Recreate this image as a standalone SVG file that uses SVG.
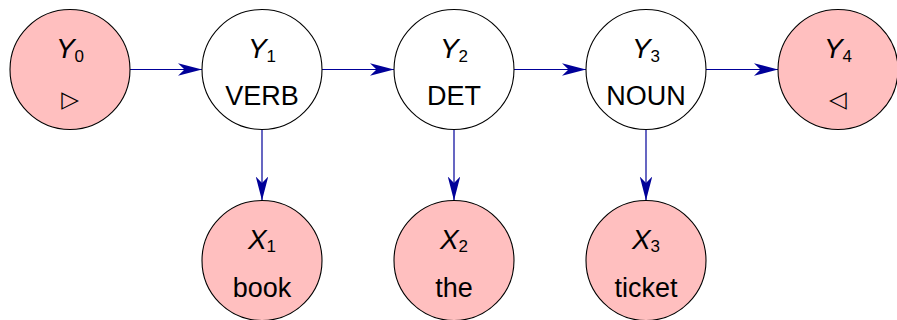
<svg xmlns="http://www.w3.org/2000/svg" width="897" height="320" viewBox="0 0 897 320">
  <style>
    .node { stroke: #000000; stroke-width: 1.1; }
    .obs { fill: #ffbfbf; }
    .hid { fill: #ffffff; }
    .lbl { font-family: "Liberation Sans", Arial, sans-serif; font-size: 27px; fill: #000000; text-anchor: middle; }
    .var { font-style: italic; font-size: 28px; }
    .sub { font-style: normal; font-size: 17px; }
    .sym { font-family: "DejaVu Sans", sans-serif; font-size: 23px; fill: #000000; text-anchor: middle; }
    .edge { stroke: #000099; stroke-width: 1.2; fill: none; marker-end: url(#head); }
  </style>
  <defs>
    <marker id="head" markerUnits="userSpaceOnUse" markerWidth="26" markerHeight="13" refX="24" refY="6.25" orient="auto">
      <path d="M0,0 L24,6.25 L0,12.5 L6.5,6.25 Z" fill="#000099"/>
    </marker>
  </defs>

  <!-- connectors -->
  <g id="edges">
    <line class="edge" x1="130" y1="69.5" x2="202" y2="69.5"/>
    <line class="edge" x1="322" y1="69.5" x2="394" y2="69.5"/>
    <line class="edge" x1="514" y1="69.5" x2="586" y2="69.5"/>
    <line class="edge" x1="706" y1="69.5" x2="778" y2="69.5"/>
    <line class="edge" x1="262" y1="129.5" x2="262" y2="200.5"/>
    <line class="edge" x1="454" y1="129.5" x2="454" y2="200.5"/>
    <line class="edge" x1="646" y1="129.5" x2="646" y2="200.5"/>
  </g>

  <!-- hidden state chain -->
  <g id="Y0">
    <circle class="node obs" cx="70" cy="69.5" r="60"/>
    <text class="lbl" x="70" y="58"><tspan class="var">Y</tspan><tspan class="sub" dy="3.5">0</tspan></text>
    <text class="sym" x="70" y="107">▷</text>
  </g>
  <g id="Y1">
    <circle class="node hid" cx="262" cy="69.5" r="60"/>
    <text class="lbl" x="262" y="58"><tspan class="var">Y</tspan><tspan class="sub" dy="3.5">1</tspan></text>
    <text class="lbl" x="262" y="105">VERB</text>
  </g>
  <g id="Y2">
    <circle class="node hid" cx="454" cy="69.5" r="60"/>
    <text class="lbl" x="454" y="58"><tspan class="var">Y</tspan><tspan class="sub" dy="3.5">2</tspan></text>
    <text class="lbl" x="454" y="105">DET</text>
  </g>
  <g id="Y3">
    <circle class="node hid" cx="646" cy="69.5" r="60"/>
    <text class="lbl" x="646" y="58"><tspan class="var">Y</tspan><tspan class="sub" dy="3.5">3</tspan></text>
    <text class="lbl" x="646" y="105">NOUN</text>
  </g>
  <g id="Y4">
    <circle class="node obs" cx="838" cy="69.5" r="60"/>
    <text class="lbl" x="838" y="58"><tspan class="var">Y</tspan><tspan class="sub" dy="3.5">4</tspan></text>
    <text class="sym" x="838" y="107">◁</text>
  </g>

  <!-- observed words -->
  <g id="X1">
    <circle class="node obs" cx="262" cy="260.5" r="60"/>
    <text class="lbl" x="262" y="248.5"><tspan class="var">X</tspan><tspan class="sub" dy="3.5">1</tspan></text>
    <text class="lbl" x="262" y="296.5">book</text>
  </g>
  <g id="X2">
    <circle class="node obs" cx="454" cy="260.5" r="60"/>
    <text class="lbl" x="454" y="248.5"><tspan class="var">X</tspan><tspan class="sub" dy="3.5">2</tspan></text>
    <text class="lbl" x="454" y="296.5">the</text>
  </g>
  <g id="X3">
    <circle class="node obs" cx="646" cy="260.5" r="60"/>
    <text class="lbl" x="646" y="248.5"><tspan class="var">X</tspan><tspan class="sub" dy="3.5">3</tspan></text>
    <text class="lbl" x="646" y="296.5">ticket</text>
  </g>
</svg>
